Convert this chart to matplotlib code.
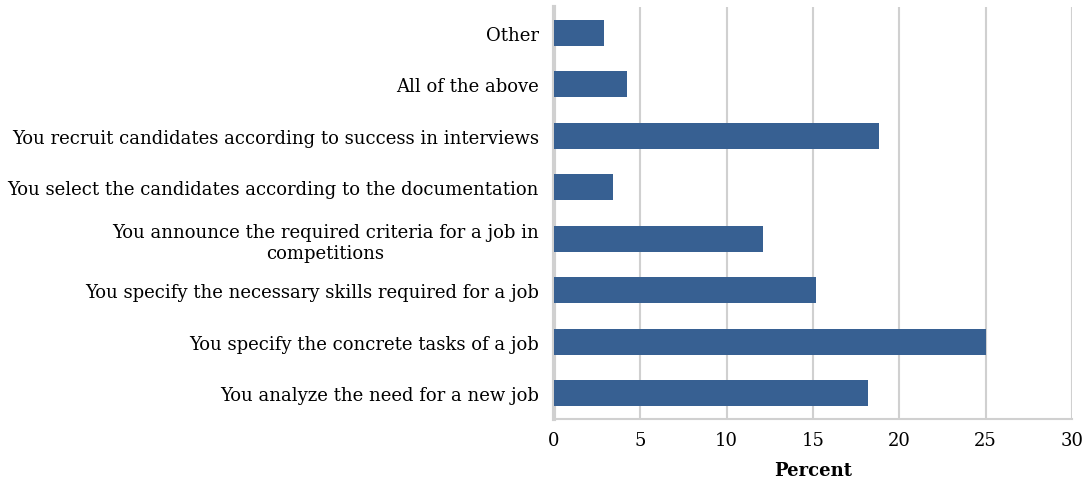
import matplotlib.pyplot as plt

categories = [
    "You analyze the need for a new job",
    "You specify the concrete tasks of a job",
    "You specify the necessary skills required for a job",
    "You announce the required criteria for a job in\ncompetitions",
    "You select the candidates according to the documentation",
    "You recruit candidates according to success in interviews",
    "All of the above",
    "Other",
]
percent = [18.2, 25.0, 15.2, 12.1, 3.4, 18.8, 4.2, 2.9]
x_ticks = [0, 5, 10, 15, 20, 25, 30]

BAR_COLOR = "#376092"
GRID_COLOR = "#d0d0d0"

plt.rcParams["font.family"] = ["DejaVu Serif"]

fig = plt.figure(figsize=(10.86, 4.85), dpi=100)
ax = fig.add_axes([554 / 1086, 1 - 420 / 485, 518 / 1086, 412 / 485])

y = range(len(categories))
ax.barh(y, percent, height=0.5, color=BAR_COLOR, zorder=3)

ax.set_xlim(0, 30)
ax.set_ylim(-0.5, len(categories) - 0.5)
ax.set_xticks(x_ticks)
ax.set_yticks(list(y))
ax.set_yticklabels(categories, fontsize=13, multialignment="center",
                   linespacing=1.2)
ax.tick_params(axis="x", labelsize=13, length=0, pad=9)
ax.tick_params(axis="y", length=0, pad=11)

ax.grid(axis="x", color=GRID_COLOR, linewidth=1.5, zorder=0)
for side in ("top", "right"):
    ax.spines[side].set_visible(False)
ax.spines["left"].set_color(GRID_COLOR)
ax.spines["left"].set_linewidth(3)
ax.spines["bottom"].set_color(GRID_COLOR)
ax.spines["bottom"].set_linewidth(1.5)

ax.set_xlabel("Percent", fontsize=13, fontweight="bold", labelpad=8)

fig.savefig("out.png", dpi=100)
